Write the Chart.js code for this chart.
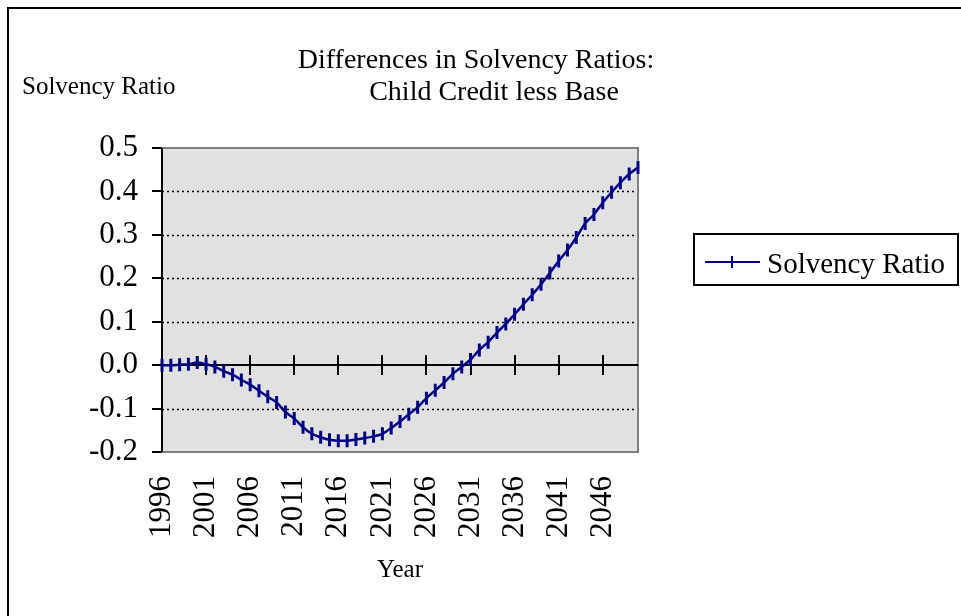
<!DOCTYPE html>
<html>
<head>
<meta charset="utf-8">
<script src="https://cdn.jsdelivr.net/npm/chart.js@4/dist/chart.umd.min.js"></script>
<style>
  html,body{margin:0;padding:0;background:#fff;}
  #wrap{width:961px;height:616px;position:relative;}
</style>
</head>
<body>
<div id="wrap"><canvas id="c" width="961" height="616"></canvas></div>
<script>
// years on the category axis, one point per year
const years = ['1996','1997','1998','1999','2000','2001','2002','2003','2004','2005',
  '2006','2007','2008','2009','2010','2011','2012','2013','2014','2015',
  '2016','2017','2018','2019','2020','2021','2022','2023','2024','2025',
  '2026','2027','2028','2029','2030','2031','2032','2033','2034','2035',
  '2036','2037','2038','2039','2040','2041','2042','2043','2044','2045',
  '2046','2047','2048','2049','2050'];

// child credit less base
const solvencyDiff = [0.000, 0.000, 0.001, 0.002, 0.006, 0.002, -0.004, -0.014, -0.022, -0.034,
  -0.045, -0.059, -0.073, -0.086, -0.108, -0.123, -0.143, -0.158, -0.166, -0.172,
  -0.174, -0.174, -0.171, -0.168, -0.164, -0.158, -0.145, -0.130, -0.113, -0.097,
  -0.076, -0.058, -0.040, -0.020, -0.004, 0.013, 0.035, 0.053, 0.075, 0.095,
  0.117, 0.140, 0.162, 0.186, 0.212, 0.240, 0.265, 0.294, 0.326, 0.347,
  0.374, 0.398, 0.420, 0.440, 0.455];

const yMin = -0.2, yMax = 0.5, yStep = 0.1;
const titleLines = ['Differences in Solvency Ratios:', 'Child Credit less Base'];
const yTitle = 'Solvency Ratio';
const xTitle = 'Year';
const seriesName = 'Solvency Ratio';

const SERIF = '"Liberation Serif", "Times New Roman", serif';
const NAVY = '#000080';

// background, gridlines, axes, titles and legend drawn around the plot
const decor = {
  id: 'decor',
  beforeDraw(chart) {
    const { ctx, chartArea: a } = chart;
    ctx.save();
    ctx.fillStyle = '#fff';
    ctx.fillRect(0, 0, chart.width, chart.height);
    // outer frame (only left and top show in the window)
    ctx.strokeStyle = '#000';
    ctx.lineWidth = 2;
    ctx.beginPath();
    ctx.moveTo(961, 8); ctx.lineTo(8, 8); ctx.lineTo(8, 616);
    ctx.stroke();
    ctx.fillStyle = '#e1e1e1';
    ctx.fillRect(a.left, a.top, a.right - a.left, a.bottom - a.top);
    ctx.restore();
  },
  beforeDatasetsDraw(chart) {
    const { ctx, chartArea: a, scales: { x, y } } = chart;
    ctx.save();
    // dotted gridlines
    ctx.strokeStyle = '#000';
    ctx.lineWidth = 1.5;
    ctx.setLineDash([2, 3]);
    for (let v = yMin + yStep; v < yMax - 1e-9; v += yStep) {
      if (Math.abs(v) < 1e-9) continue;
      const py = Math.round(y.getPixelForValue(v)) + 0.5;
      ctx.beginPath(); ctx.moveTo(a.left, py); ctx.lineTo(a.right, py); ctx.stroke();
    }
    ctx.setLineDash([]);
    // grey plot border
    ctx.strokeStyle = '#808080';
    ctx.lineWidth = 2;
    ctx.beginPath();
    ctx.moveTo(a.left, a.top); ctx.lineTo(a.right, a.top);
    ctx.lineTo(a.right, a.bottom); ctx.lineTo(a.left, a.bottom);
    ctx.stroke();
    // value axis with outside ticks
    ctx.strokeStyle = '#000';
    ctx.beginPath();
    ctx.moveTo(a.left, a.top); ctx.lineTo(a.left, a.bottom);
    for (let v = yMin; v <= yMax + 1e-9; v += yStep) {
      const py = Math.round(y.getPixelForValue(v));
      ctx.moveTo(a.left - 10, py); ctx.lineTo(a.left, py);
    }
    ctx.stroke();
    // category axis crossing at zero, ticks every 5 years
    const y0 = Math.round(y.getPixelForValue(0));
    ctx.beginPath();
    ctx.moveTo(a.left, y0); ctx.lineTo(a.right, y0);
    years.forEach((_, i) => {
      if (i % 5 !== 0) return;
      const px = Math.round(x.getPixelForValue(i));
      ctx.moveTo(px, y0 - 10); ctx.lineTo(px, y0 + 10);
    });
    ctx.stroke();
    ctx.restore();
  },
  afterDraw(chart) {
    const { ctx, chartArea: a } = chart;
    ctx.save();
    ctx.fillStyle = '#000';
    ctx.textBaseline = 'alphabetic';
    // title, two lines
    ctx.font = '28px ' + SERIF;
    ctx.textAlign = 'center';
    ctx.fillText(titleLines[0], 476, 68);
    ctx.fillText(titleLines[1], 494, 100);
    // value axis caption, top-left
    ctx.font = '25px ' + SERIF;
    ctx.textAlign = 'left';
    ctx.fillText(yTitle, 22, 94);
    // category axis caption
    ctx.textAlign = 'center';
    ctx.fillText(xTitle, (a.left + a.right) / 2, 577);
    // legend
    ctx.strokeStyle = '#000';
    ctx.lineWidth = 2;
    ctx.strokeRect(694, 234, 264, 51);
    ctx.strokeStyle = NAVY;
    ctx.beginPath();
    ctx.moveTo(705, 262); ctx.lineTo(760, 262);
    ctx.moveTo(732, 256); ctx.lineTo(732, 268);
    ctx.stroke();
    ctx.font = '29px ' + SERIF;
    ctx.textAlign = 'left';
    ctx.fillText(seriesName, 767, 273);
    ctx.restore();
  }
};

new Chart(document.getElementById('c'), {
  type: 'line',
  data: {
    labels: years,
    datasets: [{
      label: seriesName,
      data: solvencyDiff,
      borderColor: NAVY,
      borderWidth: 2.5,
      tension: 0.4,
      pointStyle: 'line',
      pointRotation: 90,
      pointRadius: 6.5,
      pointBorderWidth: 3,
      pointBorderColor: NAVY,
      pointBackgroundColor: NAVY,
      fill: false
    }]
  },
  options: {
    responsive: false,
    animation: false,
    events: [],
    layout: { padding: { left: 20, top: 148, right: 323, bottom: 0 } },
    plugins: { legend: { display: false }, title: { display: false }, tooltip: { enabled: false } },
    scales: {
      x: {
        type: 'category',
        offset: false,
        grid: { display: false, drawTicks: false },
        border: { display: false },
        ticks: {
          autoSkip: false,
          minRotation: 90,
          maxRotation: 90,
          padding: 24,
          color: '#000',
          font: { family: SERIF, size: 31 },
          callback: (v, i) => (i % 5 === 0 ? years[i] : '')
        },
        afterFit: s => { s.height = 164; }
      },
      y: {
        min: yMin,
        max: yMax,
        grid: { display: false, drawTicks: false },
        border: { display: false },
        ticks: {
          stepSize: yStep,
          padding: 24,
          color: '#000',
          font: { family: SERIF, size: 31 },
          callback: v => (Math.abs(v) < 1e-9 ? 0 : v).toFixed(1)
        },
        afterFit: s => { s.width = 142; }
      }
    }
  },
  plugins: [decor]
});
</script>
</body>
</html>
